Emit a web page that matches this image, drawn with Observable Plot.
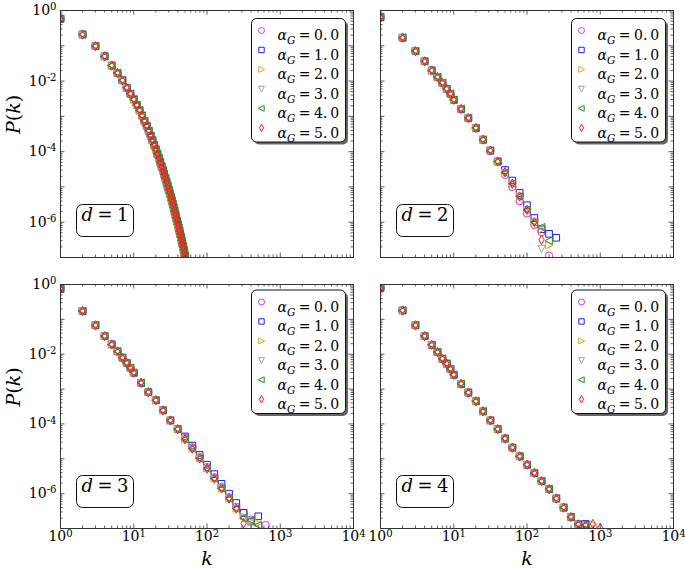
<!DOCTYPE html>
<html><head><meta charset="utf-8">
<script src="https://cdn.jsdelivr.net/npm/d3@7"></script>
<script src="https://cdn.jsdelivr.net/npm/@observablehq/plot@0.6"></script>
<style>
body{margin:0;background:#fff;}
#wrap{position:relative;width:685px;height:568px;background:#fff;}
#wrap svg{position:absolute;overflow:visible;}
#wrap svg, #wrap svg text, #wrap svg tspan{font-family:"DejaVu Serif",serif !important;}
</style></head><body><div id="wrap"></div>
<script>
// ---------- data (log10 P(k)) ----------
const alphaLabels = ["0.0", "1.0", "2.0", "3.0", "4.0", "5.0"];
const seriesColors = ["#e030e0", "#1c1cff", "#e0a326", "#a3a3a3", "#228b22", "#ff1a1a"];

// d = 1 : every integer k
const d1K = [1,2,3,4,5,6,7,8,9,10,11,12,13,14,15,16,17,18,19,20,21,22,23,24,25,26,27,28,29,30,
             31,32,33,34,35,36,37,38,39,40,41,42,43,44,45,46,47,48,49,50];
const d1LogP = [-0.235,-0.68,-1.01,-1.30,-1.56,-1.77,-1.98,-2.19,-2.36,-2.52,-2.68,-2.83,-2.98,-3.13,-3.27,
                -3.41,-3.55,-3.68,-3.81,-3.94,-4.06,-4.18,-4.30,-4.42,-4.53,-4.64,-4.75,-4.86,-4.97,-5.08,
                -5.18,-5.28,-5.38,-5.48,-5.58,-5.68,-5.78,-5.88,-5.97,-6.06,-6.15,-6.24,-6.33,-6.42,-6.51,
                -6.60,-6.69,-6.78,-6.87,-6.96];
const d1TailK = [];
const d1Tail = [[],[],[],[],[],[]];

// d = 2 : log-binned k
const d2K = [1,2,3,4,5,6,7,8,9,10,12.6,15.8,20,25.1,31.6,39.8];
const d2LogP = [-0.19,-0.77,-1.15,-1.44,-1.70,-1.89,-2.05,-2.22,-2.36,-2.53,-2.79,-3.05,-3.33,-3.66,-3.97,-4.28];
const d2TailK = [50.1, 63.1, 79.4, 100, 126, 158, 200, 251];
const d2Tail = [
  [-4.66,-5.00,-5.40,-5.75,-6.08,-6.28,-6.95,null],
  [-4.52,-4.82,-5.17,-5.52,-5.88,-6.20,-6.33,-6.44],
  [-4.60,-4.91,-5.27,-5.65,-6.00,-6.20,-6.65,null],
  [-4.60,-4.91,-5.27,-5.65,-6.00,-6.75,null,null],
  [-4.60,-4.91,-5.27,-5.65,-6.00,-6.14,-6.52,null],
  [-4.58,-4.91,-5.27,-5.65,-6.00,-6.50,null,null]
];

// d = 3
const d3K = [1,2,3,4,5,6,7,8,9,10,12.6,15.8,20,25.1,31.6,39.8];
const d3LogP = [-0.12,-0.76,-1.17,-1.48,-1.72,-1.92,-2.10,-2.25,-2.39,-2.53,-2.82,-3.09,-3.32,-3.61,-3.90,-4.15];
const d3TailK = [50.1, 63.1, 79.4, 100, 126, 158, 200, 251, 316, 398, 501, 631];
const d3Tail = [
  [-4.40,-4.67,-4.95,-5.24,-5.53,-5.81,-6.10,-6.38,-6.55,-6.75,null,-6.90],
  [-4.36,-4.62,-4.89,-5.17,-5.44,-5.72,-6.00,-6.27,-6.55,-6.80,-6.65,null],
  [-4.44,-4.71,-4.99,-5.28,-5.57,-5.85,-6.14,-6.43,-6.65,-6.80,-6.85,null],
  [-4.44,-4.71,-4.99,-5.28,-5.57,-5.85,-6.14,-6.43,-6.70,-6.85,null,null],
  [-4.44,-4.71,-4.99,-5.28,-5.57,-5.85,-6.14,-6.43,-6.70,-6.76,-6.90,null],
  [-4.44,-4.71,-4.99,-5.28,-5.57,-5.85,-6.14,-6.43,-6.85,null,null,null]
];

// d = 4
const d4K = [1,2,3,4,5,6,7,8,9,10,12.6,15.8,20,25.1,31.6,39.8,50.1,63.1,79.4,100,126,158,200,251,316,398,501];
const d4LogP = [-0.095,-0.745,-1.17,-1.48,-1.73,-1.94,-2.13,-2.27,-2.42,-2.59,-2.85,-3.10,-3.35,-3.64,-3.90,
                -4.15,-4.42,-4.68,-4.93,-5.17,-5.41,-5.64,-5.87,-6.14,-6.40,-6.67,-6.88];
const d4TailK = [631, 794, 1000];
const d4Tail = [
  [-6.90,null,null],
  [-6.87,null,null],
  [-6.90,-6.88,null],
  [-6.92,null,null],
  [-6.90,null,null],
  [-6.92,-6.87,-6.98]
];

// ---------- marker shapes ----------
function poly(pts){
  return {draw(ctx, size){
    const r = Math.sqrt(size/Math.PI);
    ctx.moveTo(pts[0][0]*r, pts[0][1]*r);
    for (const p of pts.slice(1)) ctx.lineTo(p[0]*r, p[1]*r);
    ctx.closePath();
  }};
}
const symbols = [
  "circle",
  poly([[-0.9,-0.9],[0.9,-0.9],[0.9,0.9],[-0.9,0.9]]),
  poly([[1.1,0],[-0.9,-1],[-0.9,1]]),
  poly([[0,1.1],[-1,-0.9],[1,-0.9]]),
  poly([[-1.1,0],[0.9,-1],[0.9,1]]),
  poly([[0,-1.25],[0.7,0],[0,1.25],[-0.7,0]])
];

const panels = [
  {d:1, K:d1K, L:d1LogP, TK:d1TailK, T:d1Tail, left:0,   top:0,   w:365, h:284, mt:10, mb:27, ml:60, mr:12, yAx:true,  xAx:false, legTop:8},
  {d:2, K:d2K, L:d2LogP, TK:d2TailK, T:d2Tail, left:365, top:0,   w:320, h:284, mt:10, mb:27, ml:15, mr:12, yAx:false, xAx:false, legTop:8},
  {d:3, K:d3K, L:d3LogP, TK:d3TailK, T:d3Tail, left:0,   top:270, w:365, h:298, mt:14, mb:40, ml:60, mr:12, yAx:true,  xAx:true,  legTop:5.5},
  {d:4, K:d4K, L:d4LogP, TK:d4TailK, T:d4Tail, left:365, top:270, w:320, h:298, mt:14, mb:40, ml:15, mr:12, yAx:false, xAx:true,  legTop:5.5}
];

const FONT = "DejaVu Serif";
const xMajor = [1, 10, 100, 1000, 10000];
const xMinor = [];
for (let e = 0; e < 4; e++) for (let m = 2; m <= 9; m++) xMinor.push(m * 10 ** e);
const yMajor = [1e-7,1e-6,1e-5,1e-4,1e-3,1e-2,1e-1,1];
const yMinor = [];
for (let e = -7; e < 0; e++) for (let m = 2; m <= 9; m++) yMinor.push(m * 10 ** e);
const fmtPow = d => "10^" + Math.round(Math.log10(d));

const wrap = document.getElementById("wrap");

for (const P of panels) {
  const fw = P.w - P.ml - P.mr, fh = P.h - P.mt - P.mb;
  const tk = {stroke: "#333", strokeWidth: 0.8};
  const marks = [];
  // data
  for (let s = 0; s < 6; s++) {
    const rows = P.K.map((k, i) => ({k, p: 10 ** P.L[i]}));
    P.TK.forEach((k, i) => { const v = P.T[s][i]; if (v != null) rows.push({k, p: 10 ** v}); });
    marks.push(Plot.dot(rows, {x: "k", y: "p", symbol: symbols[s], r: 3.7, stroke: seriesColors[s], strokeWidth: 1, fill: "none", clip: true}));
  }
  // ticks (inward, all four sides)
  marks.push(Plot.tickX(xMajor, {x: d => d, insetTop: fh - 4.5, ...tk}));
  marks.push(Plot.tickX(xMajor, {x: d => d, insetBottom: fh - 4.5, ...tk}));
  marks.push(Plot.tickX(xMinor, {x: d => d, insetTop: fh - 2.5, ...tk}));
  marks.push(Plot.tickX(xMinor, {x: d => d, insetBottom: fh - 2.5, ...tk}));
  marks.push(Plot.tickY(yMajor, {y: d => d, insetRight: fw - 4.5, ...tk}));
  marks.push(Plot.tickY(yMajor, {y: d => d, insetLeft: fw - 4.5, ...tk}));
  marks.push(Plot.tickY(yMinor, {y: d => d, insetRight: fw - 2.5, ...tk}));
  marks.push(Plot.tickY(yMinor, {y: d => d, insetLeft: fw - 2.5, ...tk}));
  // axes labels
  if (P.yAx) {
    marks.push(Plot.axisY({ticks: [1, 1e-2, 1e-4, 1e-6], tickSize: 0, tickPadding: 4, tickFormat: fmtPow, label: null, fontSize: 14, fontFamily: FONT}));
    marks.push(Plot.text(["Pk"], {text: d => d, frameAnchor: "left", dx: -47, rotate: -90, fontSize: 19, fontFamily: FONT}));
  }
  if (P.xAx) {
    marks.push(Plot.axisX({ticks: xMajor, tickSize: 0, tickPadding: 3, tickFormat: fmtPow, label: null, fontSize: 14, fontFamily: FONT}));
    marks.push(Plot.text(["kx"], {text: d => d, frameAnchor: "bottom", dy: 36, fontSize: 19, fontFamily: FONT}));
  }
  // d-label box
  marks.push(Plot.frame({insetLeft: 16, insetRight: fw - 16 - 57, insetTop: fh - 21 - 32, insetBottom: 21, rx: 6, fill: "white", stroke: "#111", strokeWidth: 1}));
  marks.push(Plot.text(["dlab:" + P.d], {text: d => d, frameAnchor: "bottom-left", dx: 16 + 28.5, dy: -(21 + 16), fontSize: 18, textAnchor: "middle", fontFamily: FONT}));
  // legend box with shadow
  const lw = 94, lh = 123.5, lr = 8;
  marks.push(Plot.frame({insetTop: P.legTop + 2.5, insetRight: lr - 2.5, insetLeft: fw - lr - lw + 2.5, insetBottom: fh - P.legTop - lh - 2.5, rx: 5, fill: "#666", stroke: "none"}));
  marks.push(Plot.frame({insetTop: P.legTop, insetRight: lr, insetLeft: fw - lr - lw, insetBottom: fh - P.legTop - lh, rx: 5, fill: "white", stroke: "#111", strokeWidth: 1}));
  for (let s = 0; s < 6; s++) {
    const dy = P.legTop + 12 + 19.45 * s;
    marks.push(Plot.dot([0], {frameAnchor: "top-right", dx: -(lr + lw - 10), dy, symbol: symbols[s], r: 3, stroke: seriesColors[s], strokeWidth: 1, fill: "none"}));
    marks.push(Plot.text(["alpha:" + alphaLabels[s]], {text: d => d, frameAnchor: "top-right", dx: -(lr + lw - 26), dy, textAnchor: "start", fontSize: 14, fontFamily: FONT}));
  }
  // frame
  marks.push(Plot.frame({stroke: "#333", strokeWidth: 1}));

  const svg = Plot.plot({
    width: P.w, height: P.h,
    marginTop: P.mt, marginBottom: P.mb, marginLeft: P.ml, marginRight: P.mr,
    x: {type: "log", domain: [1, 1e4], axis: null},
    y: {type: "log", domain: [1e-7, 1], axis: null},
    style: {fontFamily: FONT, fontSize: "14px", overflow: "visible", background: "transparent", color: "#000"},
    marks
  });
  svg.style.position = "absolute";
  svg.style.left = P.left + "px";
  svg.style.top = P.top + "px";
  wrap.appendChild(svg);

  // rich text formatting (math-style labels)
  d3.select(svg).selectAll("text").each(function() {
    const t = this.textContent;
    const sel = d3.select(this);
    let m;
    if ((m = t.match(/^10\^(-?\d+)$/))) {
      sel.text("10");
      sel.append("tspan").attr("dy", "-0.48em").attr("font-size", "0.72em").text(m[1]);
    } else if ((m = t.match(/^alpha:(.*)$/))) {
      sel.text("");
      sel.append("tspan").attr("font-style", "italic").text("α");
      sel.append("tspan").attr("font-style", "italic").attr("font-size", "10.5px").attr("dy", "4px").text("G");
      sel.append("tspan").attr("dy", "-4px").text("\u2005=\u2005" + m[1].replace(".", ".\u2009"));
    } else if ((m = t.match(/^dlab:(.*)$/))) {
      sel.text("");
      sel.append("tspan").attr("font-style", "italic").text("d");
      sel.append("tspan").text("\u2005=\u2005" + m[1]);
    } else if (t === "Pk") {
      sel.text("");
      sel.append("tspan").attr("font-style", "italic").text("P");
      sel.append("tspan").text("(");
      sel.append("tspan").attr("font-style", "italic").text("k");
      sel.append("tspan").text(")");
    } else if (t === "kx") {
      sel.text("");
      sel.append("tspan").attr("font-style", "italic").text("k");
    }
  });
}
</script></body></html>
